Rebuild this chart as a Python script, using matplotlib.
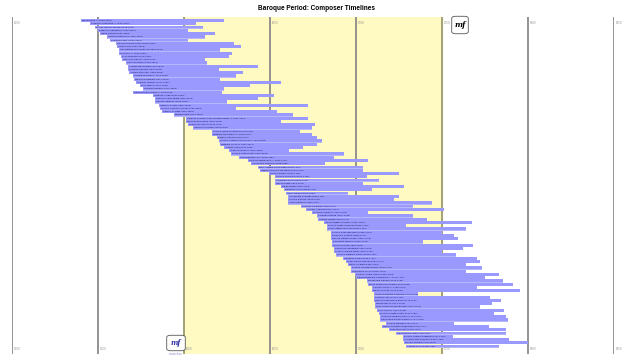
import matplotlib
matplotlib.use("Agg")
import matplotlib.pyplot as plt
from matplotlib.patches import FancyBboxPatch

names = [
    "William Byrd", "Luzzasco Luzzaschi", "Tomás Luis de Victoria", "Emilio de' Cavalieri",
    "Giulio Caccini", "Giovanni Gabrieli", "Thomas Morley", "Hieronymus Praetorius",
    "Jacopo Peri", "Jan Pieterszoon Sweelinck", "John Bull", "John Dowland",
    "Hans Leo Hassler", "Carlo Gesualdo", "Claudio Monteverdi", "Thomas Campion",
    "Adriano Banchieri", "Salamone Rossi", "Michael Praetorius", "Thomas Tomkins",
    "John Wilbye", "Thomas Weelkes", "Giovanni Paolo Cima", "Gregorio Allegri",
    "Girolamo Frescobaldi", "Orlando Gibbons", "Heinrich Schütz", "Johann Hermann Schein",
    "Samuel Scheidt", "Biagio Marini", "Jacques Champion de Chambonnières", "Michelangelo Rossi",
    "Francesco Cavalli", "Giacomo Carissimi", "Johann Jakob Froberger", "Matthias Weckmann",
    "Barbara Strozzi", "Johann Heinrich Schmelzer", "Matthew Locke", "Antonio Cesti",
    "Louis Couperin", "Johann Caspar Kerll", "Jean-Baptiste Lully", "Dieterich Buxtehude",
    "Alessandro Stradella", "Marc-Antoine Charpentier", "Heinrich Ignaz Franz Biber", "Johann Krieger",
    "Johann Pachelbel", "Arcangelo Corelli", "Georg Muffat", "Marin Marais",
    "Giuseppe Torelli", "Henry Purcell", "Alessandro Scarlatti", "Johann Kuhnau",
    "André Campra", "François Couperin", "Tomaso Albinoni", "Jeremiah Clarke",
    "Christian Petzold", "Antonio Vivaldi", "Georg Philipp Telemann", "Johann David Heinichen",
    "Jean-Philippe Rameau", "Johann Sebastian Bach", "Domenico Scarlatti", "George Frideric Handel",
    "Benedetto Marcello", "Nicola Porpora", "Francesco Geminiani", "Sylvius Leopold Weiss",
    "Johann Friedrich Fasch", "Giuseppe Tartini", "Louis-Claude Daquin", "Pietro Locatelli",
    "Johann Joachim Quantz", "Jean-Marie Leclair", "Johann Adolph Hasse", "Giovanni Battista Sammartini",
    "Baldassare Galuppi", "Pietro Domenico Paradisi", "Charles Avison", "Michel Corrette",
    "Giovanni Battista Pergolesi", "Thomas Arne", "Wilhelm Friedemann Bach", "William Boyce",
    "Jean-Joseph de Mondonville", "John Stanley", "Johann Ludwig Krebs", "Christoph Willibald Gluck",
    "Carl Philipp Emanuel Bach", "Johann Stamitz", "Georg Christoph Wagenseil", "Leopold Mozart",
    "Carl Friedrich Abel", "Johann Gottlieb Goldberg", "Armand-Louis Couperin", "Niccolò Piccinni",
    "Antonio Soler",
]
born = [
    1540, 1545, 1548, 1550, 1551, 1555, 1557, 1560, 1561, 1562, 1562, 1563, 1564, 1566, 1567, 1567,
    1568, 1570, 1571, 1572, 1574, 1576, 1570, 1582, 1583, 1583, 1585, 1586, 1587, 1594, 1601, 1601,
    1602, 1605, 1616, 1616, 1619, 1620, 1621, 1623, 1626, 1627, 1632, 1637, 1639, 1643, 1644, 1649,
    1653, 1653, 1653, 1656, 1658, 1659, 1660, 1660, 1660, 1668, 1671, 1674, 1677, 1678, 1681, 1683,
    1683, 1685, 1685, 1685, 1686, 1686, 1687, 1687, 1688, 1692, 1694, 1695, 1697, 1697, 1699, 1700,
    1706, 1707, 1709, 1709, 1710, 1710, 1710, 1711, 1711, 1712, 1713, 1714, 1714, 1717, 1715, 1719,
    1723, 1727, 1727, 1728, 1729,
]
died = [
    1623, 1607, 1611, 1602, 1618, 1612, 1602, 1629, 1633, 1621, 1628, 1626, 1612, 1613, 1643, 1620,
    1634, 1630, 1621, 1656, 1638, 1623, 1622, 1652, 1643, 1625, 1672, 1630, 1654, 1663, 1672, 1656,
    1676, 1674, 1667, 1674, 1677, 1680, 1677, 1669, 1661, 1693, 1687, 1707, 1682, 1704, 1704, 1725,
    1706, 1713, 1704, 1728, 1709, 1695, 1725, 1722, 1744, 1733, 1751, 1707, 1733, 1741, 1767, 1729,
    1764, 1750, 1757, 1759, 1739, 1768, 1762, 1750, 1758, 1770, 1772, 1764, 1773, 1764, 1783, 1775,
    1785, 1791, 1770, 1795, 1736, 1778, 1784, 1779, 1772, 1786, 1780, 1787, 1788, 1757, 1777, 1787,
    1787, 1756, 1789, 1800, 1783,
]
circa = [
    True, True, False, True, False, True, False, False, False, False, True, False, False, False, False, False,
    False, True, False, False, False, False, True, False, False, False, False, False, False, False, True, False,
    False, False, False, True, False, True, True, False, True, False, False, True, False, False, False, False,
    False, False, False, False, False, False, False, False, False, False, False, True, False, False, False, False,
    False, False, False, False, False, False, False, False, False, False, False, False, False, False, False, True,
    False, False, True, False, False, False, False, False, False, False, False, False, False, False, False, False,
    False, False, False, False, False,
]
period_start, period_end = 1600, 1750
year_ticks = [1500, 1550, 1600, 1650, 1700, 1750, 1800, 1850]
title = "Baroque Period: Composer Timelines"

W, H = 640, 360
fig = plt.figure(figsize=(W / 100, H / 100), dpi=100)
fig.patch.set_facecolor("white")

top_px, bot_px = 17, 354
first_row_px, last_row_px = 20.5, 346.0
ax = fig.add_axes([12.3 / W, 1 - bot_px / H, (614.3 - 12.3) / W, (bot_px - top_px) / H])
n = len(names)
step = (last_row_px - first_row_px) / (n - 1)
ax.set_ylim((n - 1) + (bot_px - last_row_px) / step, -(first_row_px - top_px) / step)
ax.set_xlim(1500, 1850)
ax.axis("off")

ax.axvspan(period_start, period_end, color="#fff9c2", zorder=0)
for yr in year_ticks:
    edge = yr in (period_start, period_end)
    ax.axvline(yr, color="#9a9a70" if edge else "#8a8a8a", lw=1.3, zorder=1)
    ax.text(yr + 1.0, 0.008, str(yr), transform=ax.get_xaxis_transform(), fontsize=2.2,
            color="#999999", va="bottom", ha="left", family="Liberation Sans")
    ax.text(yr + 1.0, 0.988, str(yr), transform=ax.get_xaxis_transform(), fontsize=2.2,
            color="#999999", va="top", ha="left", family="Liberation Sans")

for i, (nm, b, d, c) in enumerate(zip(names, born, died, circa)):
    ax.barh(i + 0.08, d - b, left=b, height=0.9, color="#b8b8f8", zorder=2)
    ax.barh(i, d - b, left=b, height=0.9, color="#9999ff", zorder=3)
    lab = f"{nm} ({'c. ' if c else ''}{b}-{d})"
    ax.text(b + 0.6, i, lab, fontsize=1.75, color="#10105a", va="center", ha="left", zorder=4,
            family="Liberation Sans")

fig.text(0.494, 1 - 9 / H, title, ha="center", va="center", fontsize=4.7, fontweight="bold",
         family="Liberation Sans")

# logos
box = FancyBboxPatch((453 / W, 1 - 33 / H), 14 / W, 16 / H, boxstyle="round,pad=0.002,rounding_size=0.006",
                     transform=fig.transFigure, fc="white", ec="#555555", lw=0.6)
fig.patches.append(box)
fig.text(460 / W, 1 - 25 / H, "mf", fontsize=5.5, style="italic", fontweight="bold", ha="center", va="center",
         family="DejaVu Serif")
box2 = FancyBboxPatch((168 / W, 1 - 350 / H), 16 / W, 14 / H, boxstyle="round,pad=0.002,rounding_size=0.006",
                      transform=fig.transFigure, fc="white", ec="#555555", lw=0.6)
fig.patches.append(box2)
fig.text(176 / W, 1 - 343 / H, "mf", fontsize=5, style="italic", fontweight="bold", ha="center", va="center",
         family="DejaVu Serif", color="#3333aa")
fig.text(176 / W, 1 - 354 / H, "musicfun", fontsize=2.2, ha="center", va="center", color="#8888cc")

fig.savefig("out.png", dpi=100)
